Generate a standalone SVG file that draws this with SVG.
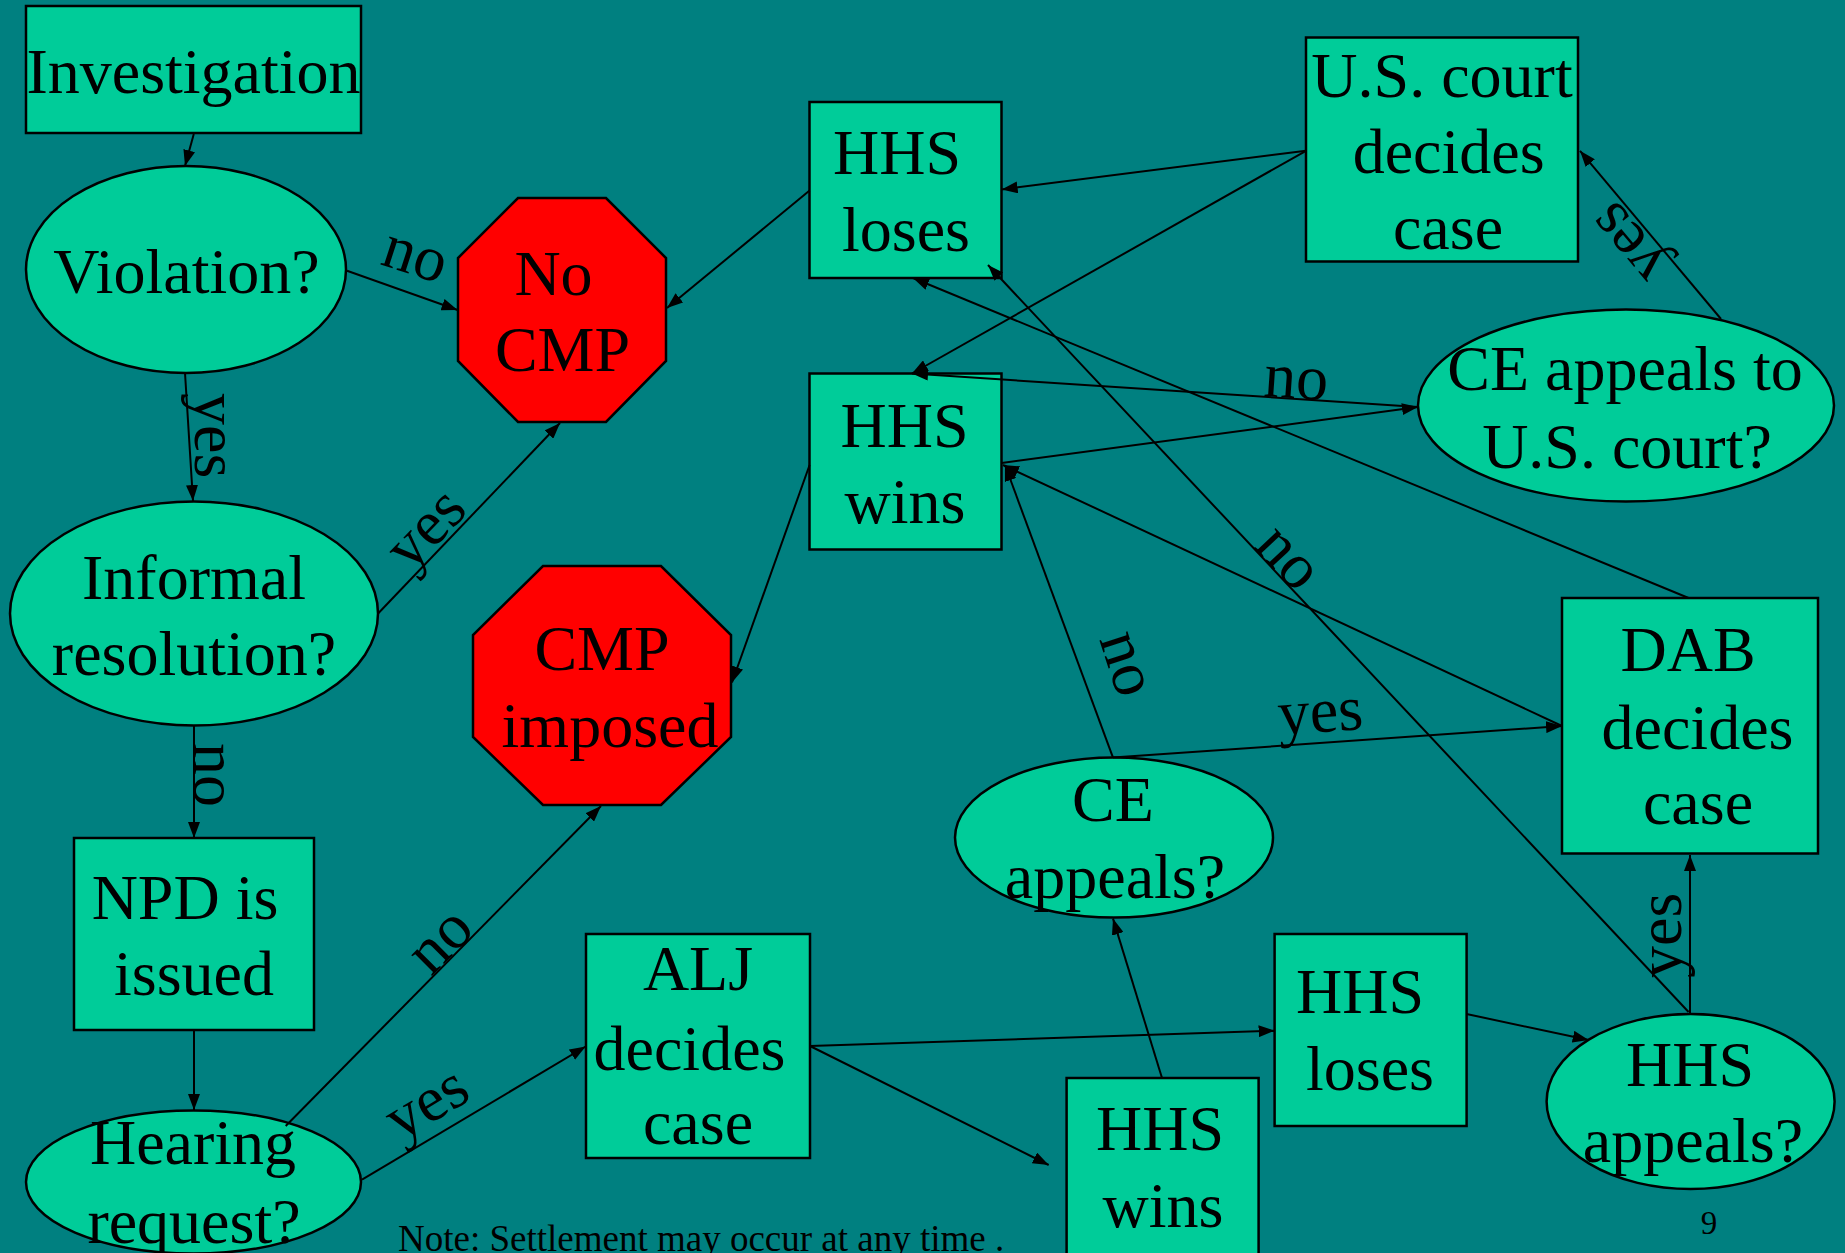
<svg xmlns="http://www.w3.org/2000/svg" width="1845" height="1253" viewBox="0 0 1845 1253">
<defs>
<marker id="arr" markerUnits="userSpaceOnUse" markerWidth="16" markerHeight="12" refX="16" refY="6" orient="auto">
<path d="M0,0 L16,6 L0,12 z" fill="#000"/>
</marker>
<style>
.n{fill:#00CC99;stroke:#000;stroke-width:2.5}
.r{fill:#FF0000;stroke:#000;stroke-width:2.5}
.t{font-family:"Liberation Serif","Times New Roman",serif;font-size:64px;fill:#000;text-anchor:middle}
.e{stroke:#000;stroke-width:2;fill:none;marker-end:url(#arr)}
.l{font-family:"Liberation Serif","Times New Roman",serif;font-size:64px;fill:#000}
</style>
</defs>
<rect width="1845" height="1253" fill="#008080"/>

<g id="investigation"><rect class="n" x="26" y="6" width="335" height="127"/><text class="t" x="193.5" y="93">Investigation</text></g>
<g id="violation"><ellipse class="n" cx="186" cy="269.5" rx="160" ry="103.5"/><text class="t" x="186.5" y="293">Violation?</text></g>
<g id="no-cmp"><polygon class="r" points="518,198 606,198 666,258 666,361 606,422 518,422 458,361 458,258"/><text class="t" x="553.5" y="295">No</text><text class="t" x="562.5" y="371">CMP</text></g>
<g id="informal"><ellipse class="n" cx="194" cy="613.5" rx="184" ry="112"/><text class="t" x="194" y="598.5">Informal</text><text class="t" x="194" y="675">resolution?</text></g>
<g id="cmp-imposed"><polygon class="r" points="543,566 661,566 731,635 731,737 661,805 543,805 473,737 473,635"/><text class="t" x="602" y="670">CMP</text><text class="t" x="610" y="747">imposed</text></g>
<g id="npd"><rect class="n" x="74" y="838" width="240" height="192"/><text class="t" x="185" y="918.5">NPD is</text><text class="t" x="194" y="995">issued</text></g>
<g id="hearing"><ellipse class="n" cx="193.5" cy="1182" rx="167.5" ry="71.5"/><text class="t" x="193" y="1164">Hearing</text><text class="t" x="194" y="1243">request?</text></g>
<g id="alj"><rect class="n" x="586" y="934" width="224" height="224"/><text class="t" x="698" y="990">ALJ</text><text class="t" x="689.5" y="1069.5">decides</text><text class="t" x="698" y="1144">case</text></g>
<g id="hhs-loses-top"><rect class="n" x="809.5" y="102" width="192" height="176"/><text class="t" x="897" y="174.3">HHS</text><text class="t" x="906" y="250.8">loses</text></g>
<g id="hhs-wins-top"><rect class="n" x="809.5" y="373.5" width="192" height="176"/><text class="t" x="904.5" y="446.5">HHS</text><text class="t" x="905" y="522.6">wins</text></g>
<g id="us-court"><rect class="n" x="1306" y="37.5" width="272" height="224"/><text class="t" x="1442" y="96.5">U.S. court</text><text class="t" x="1448.6" y="172.6">decides</text><text class="t" x="1448" y="249">case</text></g>
<g id="ce-appeals-us"><ellipse class="n" cx="1626" cy="405.6" rx="208" ry="96"/><text class="t" x="1625" y="390.4">CE appeals to</text><text class="t" x="1627" y="467.6">U.S. court?</text></g>
<g id="dab"><rect class="n" x="1562" y="598" width="256" height="255.5"/><text class="t" x="1688" y="671">DAB</text><text class="t" x="1697.5" y="748.6">decides</text><text class="t" x="1698" y="823.5">case</text></g>
<g id="ce-appeals"><ellipse class="n" cx="1114" cy="837.6" rx="159" ry="80"/><text class="t" x="1113" y="821">CE</text><text class="t" x="1115" y="897.5">appeals?</text></g>
<g id="hhs-loses-bottom"><rect class="n" x="1274.6" y="934" width="192" height="192"/><text class="t" x="1360" y="1012.7">HHS</text><text class="t" x="1370" y="1090">loses</text></g>
<g id="hhs-wins-bottom"><rect class="n" x="1066.6" y="1078" width="192" height="190"/><text class="t" x="1160" y="1149.5">HHS</text><text class="t" x="1163" y="1227">wins</text></g>
<g id="hhs-appeals"><ellipse class="n" cx="1690.6" cy="1101.5" rx="144" ry="87.5"/><text class="t" x="1690" y="1086">HHS</text><text class="t" x="1693" y="1162">appeals?</text></g>

<g id="connectors">
<line class="e" x1="193.8" y1="134" x2="185" y2="166"/>
<line class="e" x1="347" y1="270.7" x2="457.6" y2="310"/>
<line class="e" x1="185" y1="373" x2="193" y2="501"/>
<line class="e" x1="377.6" y1="614" x2="560" y2="423"/>
<line class="e" x1="194" y1="726" x2="194" y2="838"/>
<line class="e" x1="194" y1="1030" x2="194" y2="1110"/>
<line class="e" x1="285.7" y1="1126" x2="601" y2="806"/>
<line class="e" x1="362" y1="1179.6" x2="585.7" y2="1046.5"/>
<line class="e" x1="810" y1="1046" x2="1274.6" y2="1030.7"/>
<line class="e" x1="810" y1="1046" x2="1048.7" y2="1165"/>
<line class="e" x1="1162" y1="1078" x2="1113" y2="918.6"/>
<line class="e" x1="1466.5" y1="1014" x2="1588.7" y2="1040"/>
<line class="e" x1="1690" y1="1013" x2="1690" y2="855"/>
<line class="e" x1="1688.6" y1="1012" x2="988" y2="265"/>
<line class="e" x1="1688.6" y1="598" x2="913" y2="278"/>
<line class="e" x1="1562" y1="726" x2="1003" y2="465"/>
<line class="e" x1="1113" y1="757.6" x2="1005" y2="465"/>
<line class="e" x1="1113" y1="757.6" x2="1562" y2="726"/>
<line class="e" x1="1306" y1="150.8" x2="1001.6" y2="189.4"/>
<line class="e" x1="1306" y1="150.8" x2="912" y2="373.5"/>
<line class="e" x1="1418" y1="407" x2="912" y2="373.5"/>
<line class="e" x1="1001.6" y1="463" x2="1418" y2="407"/>
<line class="e" x1="1721" y1="319" x2="1580" y2="150.8"/>
<line class="e" x1="809.6" y1="190.6" x2="667" y2="308"/>
<line class="e" x1="809.6" y1="465" x2="732" y2="682.5"/>
<text class="l" transform="translate(379,264) rotate(18)">no</text>
<text class="l" transform="translate(195,393) rotate(90)">yes</text>
<text class="l" transform="translate(410,573) rotate(-46)">yes</text>
<text class="l" transform="translate(194,743) rotate(90)">no</text>
<text class="l" transform="translate(431,977) rotate(-45)">no</text>
<text class="l" transform="translate(400,1142) rotate(-31)">yes</text>
<text class="l" transform="translate(1681,978) rotate(-90)">yes</text>
<text class="l" transform="translate(1253,547) rotate(47)">no</text>
<text class="l" transform="translate(1099,639) rotate(72)">no</text>
<text class="l" transform="translate(1279,735) rotate(-4)">yes</text>
<text class="l" transform="translate(1263,396) rotate(4)">no</text>
<text class="l" transform="translate(1670,264) rotate(-130)">yes</text>
</g>
<text x="398" y="1251" font-family="Liberation Serif, Times New Roman, serif" font-size="37" fill="#000">Note: Settlement may occur at any time .</text>
<text x="1709" y="1234" font-family="Liberation Serif, Times New Roman, serif" font-size="33" fill="#000" text-anchor="middle">9</text>
</svg>
